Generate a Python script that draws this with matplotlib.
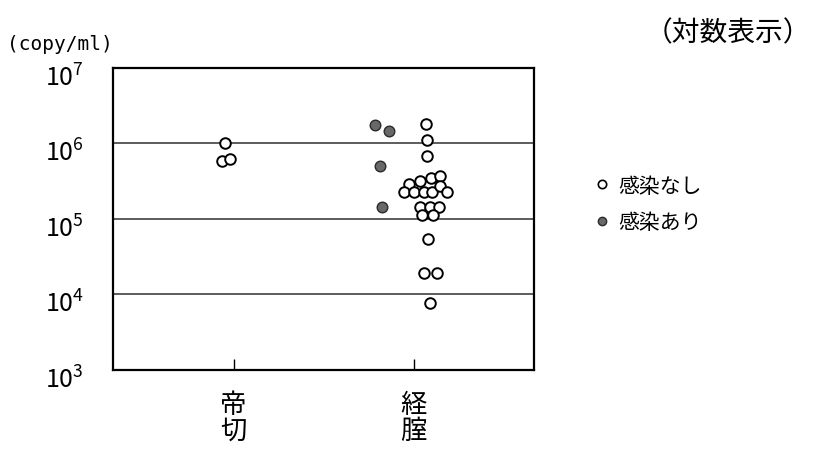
import numpy as np
import matplotlib
matplotlib.use('Agg')
import matplotlib.pyplot as plt
import matplotlib.transforms as mtransforms
from matplotlib.lines import Line2D

plt.rcParams['font.family'] = ['Noto Sans CJK JP', 'DejaVu Sans']
plt.rcParams['mathtext.fontset'] = 'custom'
plt.rcParams['mathtext.rm'] = 'Liberation Sans'

#--------- Data (copy/ml) --------------
categories = ['帝\n切', '経\n腟']

# 帝切, no infection
cs_none_val = [1.03e6, 5.8e5, 6.3e5]
cs_none_dx = [-0.046, -0.065, -0.018]

# 経腟, no infection
vd_none_val = [1.82e6, 1.12e6, 6.8e5,
               2.95e5, 3.2e5, 3.5e5, 3.7e5,
               2.3e5, 2.3e5, 2.3e5, 2.3e5, 2.7e5, 2.3e5,
               1.45e5, 1.45e5, 1.45e5,
               1.12e5, 1.12e5,
               5.5e4, 1.95e4, 1.95e4, 7.8e3]
vd_none_dx = [0.069, 0.072, 0.072,
              -0.028, 0.037, 0.095, 0.147,
              -0.052, 0.002, 0.056, 0.104, 0.148, 0.188,
              0.036, 0.090, 0.141,
              0.047, 0.107,
              0.083, 0.056, 0.130, 0.094]

# 経腟, infection
vd_inf_val = [1.78e6, 1.45e6, 5.1e5, 1.45e5]
vd_inf_dx = [-0.217, -0.137, -0.185, -0.176]
#---------------------------------------

fig = plt.figure(figsize=(8.13, 4.56), dpi=100)
ax = fig.add_axes([0.139, 0.1864, 0.518, 0.6623])

ax.set_yscale('log')
ax.set_ylim(1e3, 1e7)
ax.set_xlim(-0.67, 1.67)

for yv in [1e4, 1e5, 1e6]:
    ax.axhline(yv, color='#303030', lw=1.1, zorder=1)

open_style = dict(s=58, facecolor='white', edgecolor='black', linewidths=1.4, zorder=3)
fill_style = dict(s=58, facecolor='#686868', edgecolor='#2a2a2a', linewidths=1.0, zorder=3)

ax.scatter(0 + np.array(cs_none_dx), cs_none_val, **open_style)
ax.scatter(1 + np.array(vd_none_dx), vd_none_val, **open_style)
ax.scatter(1 + np.array(vd_inf_dx), vd_inf_val, **fill_style)

for sp in ax.spines.values():
    sp.set_linewidth(1.6)

ax.set_xticks([0, 1])
ax.set_xticklabels(categories, fontsize=19, linespacing=0.95)
ax.tick_params(axis='x', direction='in', length=8, width=1.0, pad=15)

ax.set_yticks([1e3, 1e4, 1e5, 1e6, 1e7])
ax.set_yticklabels([r'$\mathregular{10^{%d}}$' % k for k in range(3, 8)], fontsize=18)
ax.minorticks_off()
ax.tick_params(axis='y', length=0, pad=21)
shift = mtransforms.ScaledTranslation(0, -5 / 72, fig.dpi_scale_trans)
for lab in ax.get_yticklabels():
    lab.set_transform(lab.get_transform() + shift)

fig.text(0.008, 1 - 45 / 456, '(copy/ml)', fontsize=14, va='center', ha='left',
         family=['DejaVu Sans Mono', 'DejaVu Sans'])
fig.text(0.998, 1 - 33 / 456, '（対数表示）', fontsize=20, va='center', ha='right')

handles = [
    Line2D([], [], ls='none', marker='o', ms=6, mfc='white', mec='black', mew=1.2),
    Line2D([], [], ls='none', marker='o', ms=6, mfc='#686868', mec='#2a2a2a', mew=1.0),
]
fig.legend(handles, ['感染なし', '感染あり'], loc='center left',
           bbox_to_anchor=(585 / 813, 1 - 205 / 456), frameon=False, fontsize=15,
           handlelength=0.8, handletextpad=0.4, labelspacing=0.7, borderaxespad=0)

fig.savefig('out.png', dpi=100)
